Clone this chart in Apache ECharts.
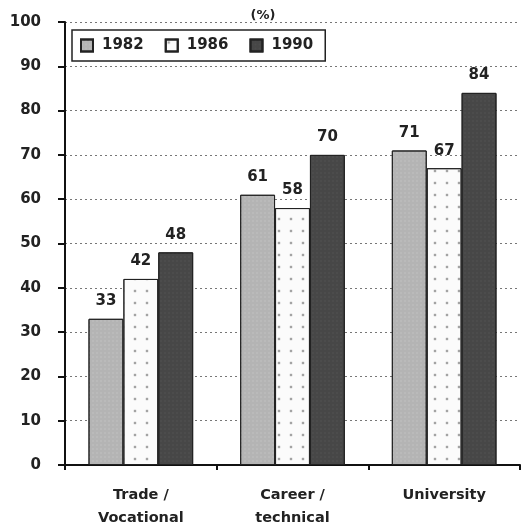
<!DOCTYPE html>
<html>
<head>
<meta charset="utf-8">
<script src="https://cdn.jsdelivr.net/npm/echarts@6/dist/echarts.min.js"></script>
<style>
html,body{margin:0;padding:0;background:#fff;}
#chart{width:522px;height:530px;}
</style>
</head>
<body>
<div id="chart"></div>
<script>
// Share of graduates, by type of program (%)
const categories = ['Trade /\nVocational', 'Career /\ntechnical', 'University'];
const years = ['1982', '1986', '1990'];
const values1982 = [33, 61, 71];
const values1986 = [42, 58, 67];
const values1990 = [48, 70, 84];
const yTicks = [0, 10, 20, 30, 40, 50, 60, 70, 80, 90, 100];

const FONT = '"DejaVu Sans", Verdana, sans-serif';

const styles = [
  { color: '#b4b4b4', decal: { symbol: 'rect', symbolSize: 0.5, color: 'rgba(255,255,255,0.35)', dashArrayX: [2, 2], dashArrayY: [2, 2] } },
  { color: '#fbfbfb', decal: { symbol: 'rect', symbolSize: 0.4, color: 'rgba(0,0,0,0.35)', dashArrayX: [6, 6], dashArrayY: [6, 6] } },
  { color: '#474747', decal: { symbol: 'rect', symbolSize: 0.5, color: 'rgba(255,255,255,0.12)', dashArrayX: [2, 2], dashArrayY: [2, 2] } }
];
const seriesData = [values1982, values1986, values1990];

const chart = echarts.init(document.getElementById('chart'), null, { renderer: 'canvas' });
chart.setOption({
  animation: false,
  backgroundColor: '#fff',
  grid: { left: 65, right: 2, top: 22, bottom: 63 },
  title: {
    text: '(%)', left: 258, top: 4, textAlign: 'center',
    textStyle: { fontFamily: FONT, fontSize: 13, fontWeight: 'bold', color: '#222' }
  },
  legend: {
    left: 72, top: 30,
    data: years,
    orient: 'horizontal',
    icon: 'rect',
    itemWidth: 12, itemHeight: 12, itemGap: 21,
    padding: [8, 12, 8, 8],
    borderColor: '#222', borderWidth: 1.5,
    backgroundColor: '#fff',
    textStyle: { fontFamily: FONT, fontSize: 15, fontWeight: 'bold', color: '#222', padding: [3, 0, 0, 4] }
  },
  xAxis: {
    type: 'category',
    data: categories,
    axisLine: { lineStyle: { color: '#111', width: 2 } },
    axisTick: { show: true, length: 5, lineStyle: { color: '#111', width: 2 } },
    axisLabel: { fontFamily: FONT, fontSize: 14.5, fontWeight: 'bold', color: '#222', margin: 19, lineHeight: 23 }
  },
  yAxis: {
    type: 'value',
    min: yTicks[0], max: yTicks[yTicks.length - 1], interval: 10,
    axisLine: { show: true, lineStyle: { color: '#111', width: 2 } },
    axisTick: { show: true, length: 7, lineStyle: { color: '#111', width: 2 } },
    axisLabel: { fontFamily: FONT, fontSize: 15, fontWeight: 'bold', color: '#222', margin: 24 },
    splitLine: { show: true, lineStyle: { color: '#777', width: 1, type: [2, 3] } }
  },
  series: years.map((y, i) => ({
    name: y,
    type: 'bar',
    data: seriesData[i],
    barGap: '0%',
    barCategoryGap: '31%',
    itemStyle: { color: styles[i].color, decal: styles[i].decal, borderColor: '#222', borderWidth: 1 },
    label: {
      show: true, position: 'top', distance: 10,
      fontFamily: FONT, fontSize: 15, fontWeight: 'bold', color: '#222'
    }
  }))
});
</script>
</body>
</html>
